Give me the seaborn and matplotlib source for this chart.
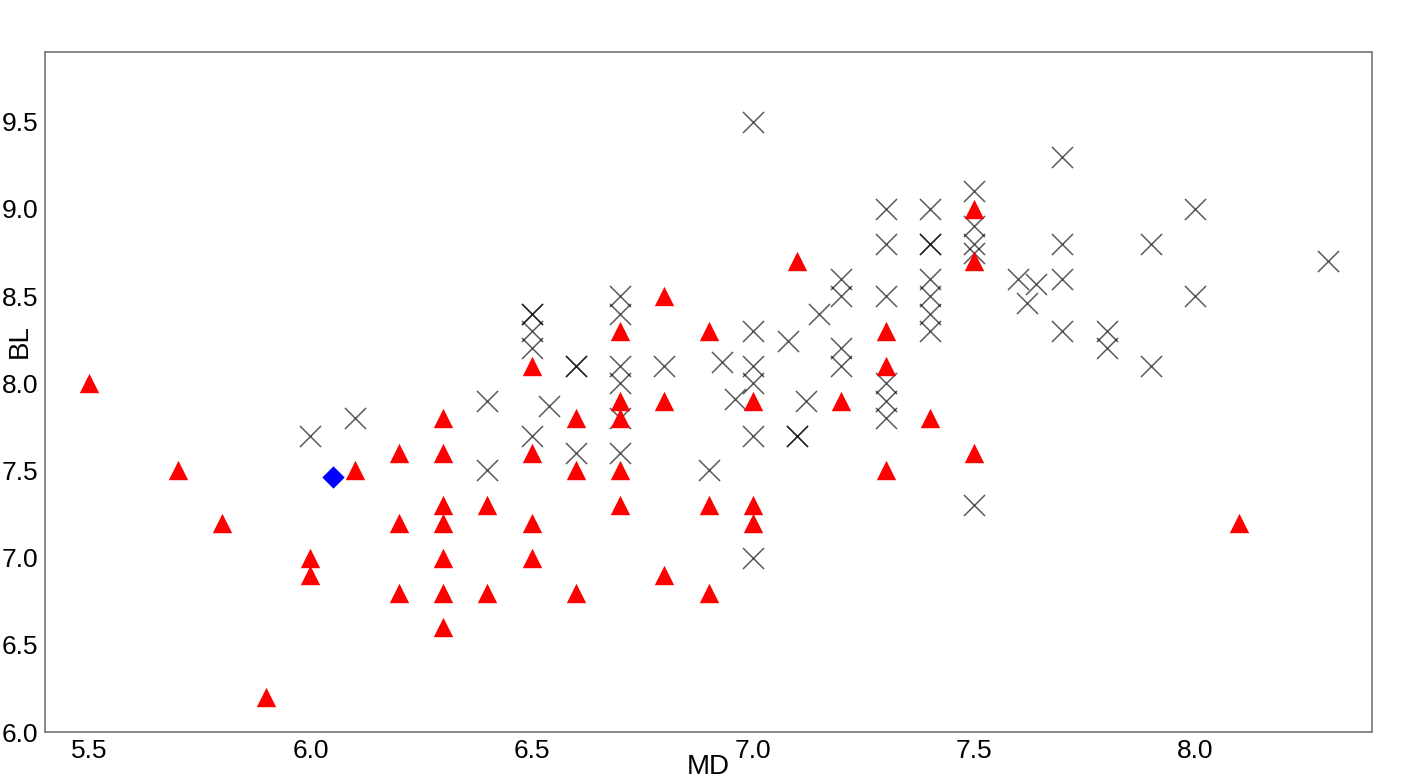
import numpy as np
import pandas as pd
import matplotlib
matplotlib.use("Agg")
import matplotlib.pyplot as plt
import seaborn as sns

# crosses (grey x markers)
cross_md = [6.0, 6.1, 6.4, 6.4, 6.5, 6.5, 6.5, 6.5, 6.5, 6.54,
            6.6, 6.6, 6.6, 6.7, 6.7, 6.7, 6.7, 6.7, 6.7, 6.8,
            6.9, 6.93, 6.96, 7.0, 7.0, 7.0, 7.0, 7.0, 7.0, 7.08,
            7.1, 7.1, 7.12, 7.15, 7.2, 7.2, 7.2, 7.2,
            7.3, 7.3, 7.3, 7.3, 7.3, 7.3,
            7.4, 7.4, 7.4, 7.4, 7.4, 7.4, 7.4,
            7.5, 7.5, 7.5, 7.5, 7.5,
            7.6, 7.64, 7.62, 7.7, 7.7, 7.7, 7.7,
            7.8, 7.8, 7.9, 7.9, 8.0, 8.0, 8.3]
cross_bl = [7.7, 7.8, 7.9, 7.5, 8.4, 8.4, 8.3, 8.2, 7.7, 7.87,
            8.1, 8.1, 7.6, 8.5, 8.4, 8.1, 8.0, 7.8, 7.6, 8.1,
            7.5, 8.12, 7.91, 9.5, 8.3, 8.1, 8.0, 7.7, 7.0, 8.24,
            7.7, 7.7, 7.9, 8.4, 8.6, 8.5, 8.2, 8.1,
            9.0, 8.8, 8.5, 8.0, 7.9, 7.8,
            9.0, 8.8, 8.8, 8.6, 8.5, 8.4, 8.3,
            9.1, 8.9, 8.8, 8.75, 7.3,
            8.6, 8.57, 8.46, 9.3, 8.8, 8.6, 8.3,
            8.3, 8.2, 8.8, 8.1, 9.0, 8.5, 8.7]

# red triangles
tri_md = [5.5, 5.7, 5.8, 5.9, 6.0, 6.0, 6.1,
          6.2, 6.2, 6.2, 6.3, 6.3, 6.3, 6.3, 6.3, 6.3, 6.3,
          6.4, 6.4, 6.5, 6.5, 6.5, 6.5, 6.6, 6.6, 6.6,
          6.7, 6.7, 6.7, 6.7, 6.7, 6.8, 6.8, 6.8,
          6.9, 6.9, 6.9, 7.0, 7.0, 7.0, 7.1, 7.2,
          7.3, 7.3, 7.3, 7.4, 7.5, 7.5, 7.5, 8.1]
tri_bl = [8.0, 7.5, 7.2, 6.2, 7.0, 6.9, 7.5,
          7.6, 7.2, 6.8, 7.8, 7.6, 7.3, 7.2, 7.0, 6.8, 6.6,
          7.3, 6.8, 8.1, 7.6, 7.2, 7.0, 7.8, 7.5, 6.8,
          8.3, 7.9, 7.8, 7.5, 7.3, 8.5, 7.9, 6.9,
          8.3, 7.3, 6.8, 7.9, 7.3, 7.2, 8.7, 7.9,
          8.3, 8.1, 7.5, 7.8, 9.0, 8.7, 7.6, 7.2]

# blue diamond
dia_md = [6.05]
dia_bl = [7.46]

crosses = pd.DataFrame({"MD": cross_md, "BL": cross_bl})
triangles = pd.DataFrame({"MD": tri_md, "BL": tri_bl})
diamond = pd.DataFrame({"MD": dia_md, "BL": dia_bl})

sns.set_style("white")
plt.rcParams["font.family"] = ["Liberation Sans", "DejaVu Sans"]

fig = plt.figure(figsize=(14.17, 7.83), dpi=100)
ax = fig.add_axes([0.0318, 0.0651, 0.9365, 0.8685])

sns.scatterplot(data=crosses, x="MD", y="BL", marker="x", s=230,
                color="black", alpha=0.65, linewidth=1.1, ax=ax, zorder=2)
sns.scatterplot(data=triangles, x="MD", y="BL", marker="^", s=195,
                color="red", linewidth=0, ax=ax, zorder=3)
sns.scatterplot(data=diamond, x="MD", y="BL", marker="D", s=130,
                color="blue", linewidth=0, ax=ax, zorder=4)

ax.set_xlim(5.4, 8.4)
ax.set_ylim(6.0, 9.9)
ax.set_xticks([5.5, 6.0, 6.5, 7.0, 7.5, 8.0])
ax.set_yticks([6.0, 6.5, 7.0, 7.5, 8.0, 8.5, 9.0, 9.5])
ax.xaxis.set_major_formatter(plt.FormatStrFormatter("%.1f"))
ax.yaxis.set_major_formatter(plt.FormatStrFormatter("%.1f"))

ax.tick_params(axis="both", direction="out", length=4, width=1,
               color="#808080", labelsize=19, labelcolor="black", pad=1)
for sp in ax.spines.values():
    sp.set_color("#808080")
    sp.set_linewidth(1.3)

ax.set_xlabel("MD", fontsize=20, color="black")
ax.set_ylabel("BL", fontsize=20, color="black")
ax.xaxis.set_label_coords(0.5, -0.032)
ax.yaxis.set_label_coords(-0.009, 0.575)

fig.savefig("out.png", dpi=100, facecolor="white")
